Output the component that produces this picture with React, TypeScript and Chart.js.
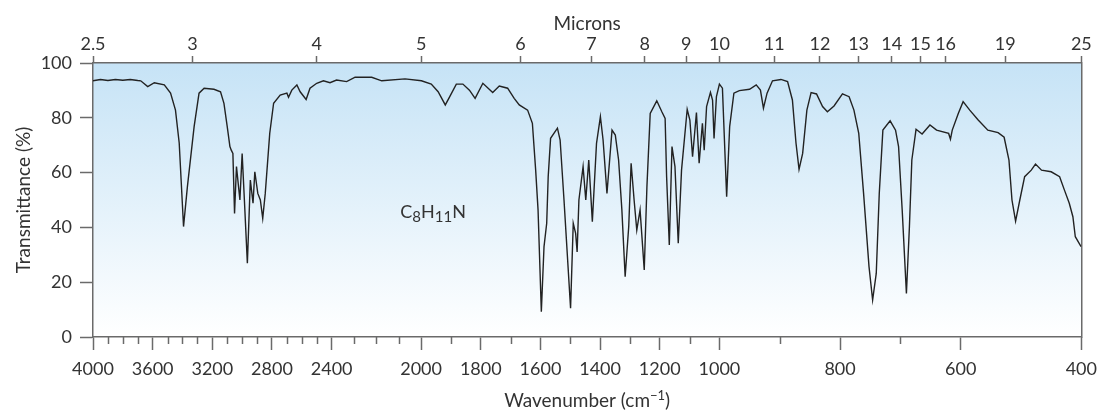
import React, { useEffect, useRef } from 'react';
import { Chart, registerables, LinearScale } from 'chart.js';

// ---------- data ----------
const wavenumbers = [
  4000, 3950, 3900, 3850, 3800, 3750, 3700, 3680, 3633, 3589, 3522, 3480, 3447, 3422, 3393, 3367, 3322, 3289, 3255, 3189,
  3145, 3122, 3100, 3082, 3073, 3062, 3051, 3038, 3015, 3000, 2985, 2965, 2945, 2927, 2915, 2895, 2878, 2862, 2845, 2815,
  2789, 2745, 2700, 2689, 2667, 2633, 2611, 2571, 2545, 2500, 2455, 2411, 2378, 2333, 2295, 2221, 2176, 2072, 1999, 1966,
  1943, 1919, 1904, 1882, 1860, 1838, 1819, 1793, 1760, 1738, 1710, 1688, 1671, 1643, 1627, 1616, 1608, 1597, 1588, 1579,
  1574, 1566, 1543, 1534, 1521, 1499, 1490, 1482, 1477, 1471, 1457, 1448, 1438, 1426, 1412, 1399, 1390, 1377, 1360, 1349,
  1338, 1327, 1316, 1304, 1296, 1286, 1277, 1266, 1252, 1243, 1232, 1210, 1193, 1182, 1177, 1168, 1159, 1149, 1138, 1127,
  1108, 1099, 1090, 1077, 1068, 1057, 1051, 1043, 1030, 1023, 1018, 1010, 1000, 995, 988, 983, 976, 967, 950, 939,
  932, 927, 921, 912, 898, 887, 879, 873, 868, 862, 855, 848, 839, 829, 821, 810, 796, 785, 777, 769,
  761, 752, 746, 740, 735, 729, 717, 708, 703, 697, 690, 685, 681, 674, 664, 651, 640, 620, 617, 614,
  604, 596, 585, 571, 555, 538, 528, 520, 515, 509, 502, 494, 483, 476, 466, 450, 436, 428, 420, 414,
  410, 401, 400,
];
const transmittance = [
  93.5, 94, 93.6, 94, 93.7, 94, 93.6, 93.5, 91.4, 92.8, 92, 89, 82.8, 70.8, 40.3, 54.9, 76.8, 89, 90.8, 90.4,
  89.5, 85.3, 76.8, 69.5, 68.2, 67, 45.1, 62.2, 50, 67, 50, 26.9, 57.3, 48.8, 60.3, 52.4, 50, 43.3, 52.4, 74.3,
  85.3, 88.3, 89, 87.5, 90.1, 92, 89.5, 86.7, 90.8, 92.6, 93.5, 92.8, 93.8, 93.2, 94.8, 94.8, 93.5, 94.2, 93.5, 92.3,
  89.5, 84.7, 87.7, 92.3, 92.3, 90.1, 87.1, 92.6, 89.2, 91.6, 90.8, 87.1, 84.7, 82.8, 78, 60.9, 46.4, 9.2, 33, 41.5,
  58.5, 72.5, 76.2, 71.9, 50, 10.5, 41.5, 37.8, 31, 50, 62.2, 50, 64.6, 42.1, 70.7, 80.4, 71.9, 52.4, 75.5, 73.7,
  64.6, 46.4, 22, 40.3, 63.4, 50, 39, 46.4, 24.5, 54.9, 81.6, 86.2, 82.2, 79.8, 58.5, 33.6, 69.5, 62.2, 34.2, 60.9,
  83.1, 79.2, 65.8, 81.9, 63.4, 78, 68.2, 84.1, 89.3, 86.5, 72.5, 87.7, 92.3, 90.8, 51.2, 76.8, 89, 89.9, 90.4, 92,
  90.1, 83.5, 89, 93.5, 94, 93.2, 86.5, 70.7, 61.2, 67, 82.8, 89.2, 88.7, 84.1, 82.2, 84.3, 88.7, 87.7, 82.8, 74.3,
  52.4, 25.7, 13.5, 23.2, 52.4, 75.5, 78.9, 75.5, 69.5, 46.4, 15.9, 40.3, 64.6, 75.8, 74.1, 77.4, 75.5, 74.3, 72.2, 75.5,
  81.6, 85.9, 82.8, 79.2, 75.5, 74.6, 72.9, 64.6, 50, 42.3, 50, 58.5, 60.9, 63.1, 60.9, 60.3, 58.5, 53.6, 48.8, 43.9,
  36.6, 33.2, 33,
];

const bottomTickValues = [
  4000, 3900, 3800, 3700, 3600, 3500, 3400, 3300, 3200, 3100, 3000, 2900, 2800, 2700, 2600, 2500, 2400,
  2300, 2200, 2100, 2000, 1900, 1800, 1700, 1600, 1500, 1400, 1300, 1200, 1100, 1000, 900, 800, 700, 600, 400,
];
const bottomTickLabels = [4000, 3600, 3200, 2800, 2400, 2000, 1800, 1600, 1400, 1200, 1000, 800, 600, 400];
const micronTicks = [2.5, 3, 4, 5, 6, 7, 8, 9, 10, 11, 12, 13, 14, 15, 16, 19, 25];
const yTickStep = 20;

const formulaParts = [
  { text: 'C', sub: false },
  { text: '8', sub: true },
  { text: 'H', sub: false },
  { text: '11', sub: true },
  { text: 'N', sub: false },
];
const FORMULA_WN = 2093;
const FORMULA_T = 43.5;

// ---------- the chart's piecewise-linear wavenumber axis ----------
const WN_BREAKS = [4000, 2400, 2000, 1000, 400];
const AXIS_FRACTIONS = [0, 240 / 994, 330 / 994, 630 / 994, 1];

function wnToFraction(w: number): number {
  const n = WN_BREAKS.length;
  for (let i = 0; i < n - 1; i++) {
    const a = WN_BREAKS[i];
    const b = WN_BREAKS[i + 1];
    if (w >= b || i === n - 2) {
      const t = (a - w) / (a - b);
      return AXIS_FRACTIONS[i] + t * (AXIS_FRACTIONS[i + 1] - AXIS_FRACTIONS[i]);
    }
  }
  return 0;
}
function fractionToWn(f: number): number {
  const n = AXIS_FRACTIONS.length;
  for (let i = 0; i < n - 1; i++) {
    const a = AXIS_FRACTIONS[i];
    const b = AXIS_FRACTIONS[i + 1];
    if (f <= b || i === n - 2) {
      const t = (f - a) / (b - a);
      return WN_BREAKS[i] + t * (WN_BREAKS[i + 1] - WN_BREAKS[i]);
    }
  }
  return WN_BREAKS[0];
}

const TICK_SETS: Record<string, number[]> = {
  x: bottomTickValues,
  xTop: micronTicks.map((m) => 10000 / m),
};

class WavenumberScale extends (LinearScale as any) {
  static id = 'wavenumber';
  static defaults = (LinearScale as any).defaults;
  buildTicks() {
    const list = TICK_SETS[(this as any).id] || [];
    return list.map((v) => ({ value: v }));
  }
  getPixelForValue(value: any) {
    if (value === null || value === undefined || isNaN(value)) return NaN;
    return (this as any).getPixelForDecimal(wnToFraction(value));
  }
  getValueForPixel(pixel: number) {
    return fractionToWn((this as any).getDecimalForPixel(pixel));
  }
}

Chart.register(...registerables, WavenumberScale as any);

const AXIS_COLOR = '#6a6a6a';
const TEXT_COLOR = '#333333';
const FONT = 'Lato';

const backgroundPlugin = {
  id: 'plotBackground',
  beforeDraw(chart: any) {
    const { ctx, chartArea } = chart;
    const { left, right, top, bottom } = chartArea;
    const g = ctx.createLinearGradient(0, top, 0, bottom);
    g.addColorStop(0, 'rgb(198,227,246)');
    g.addColorStop(1, 'rgb(255,255,255)');
    ctx.save();
    ctx.fillStyle = g;
    ctx.fillRect(left, top, right - left, bottom - top);
    ctx.restore();
  },
};

function drawRich(ctx: any, parts: { text: string; size: number; dy: number }[], cx: number, baseline: number) {
  let total = 0;
  const widths = parts.map((p) => {
    ctx.font = `${p.size}px ${FONT}`;
    const w = ctx.measureText(p.text).width;
    total += w;
    return w;
  });
  let x = cx - total / 2;
  parts.forEach((p, i) => {
    ctx.font = `${p.size}px ${FONT}`;
    ctx.fillText(p.text, x, baseline + p.dy);
    x += widths[i];
  });
}

const annotationPlugin = {
  id: 'annotations',
  afterDraw(chart: any) {
    const { ctx, chartArea } = chart;
    const sx = chart.scales.x;
    const sy = chart.scales.y;
    ctx.save();
    // minor ticks on the bottom axis
    ctx.strokeStyle = AXIS_COLOR;
    ctx.lineWidth = 1.5;
    bottomTickValues.forEach((v) => {
      if (bottomTickLabels.includes(v)) return;
      const px = Math.round(sx.getPixelForValue(v)) + 0.5;
      ctx.beginPath();
      ctx.moveTo(px, sx.top);
      ctx.lineTo(px, sx.top + 7);
      ctx.stroke();
    });
    // x-axis title with superscript
    ctx.fillStyle = TEXT_COLOR;
    ctx.textBaseline = 'alphabetic';
    ctx.textAlign = 'left';
    const cx = (chartArea.left + chartArea.right) / 2;
    drawRich(
      ctx,
      [
        { text: 'Wavenumber (cm', size: 19, dy: 0 },
        { text: '\u22121', size: 13, dy: -7 },
        { text: ')', size: 19, dy: 0 },
      ],
      cx,
      407
    );
    // molecular formula with subscripts
    let fx = sx.getPixelForValue(FORMULA_WN);
    const fy = sy.getPixelForValue(FORMULA_T);
    formulaParts.forEach((p) => {
      ctx.font = `${p.sub ? 15 : 18}px ${FONT}`;
      ctx.fillText(p.text, fx, fy + (p.sub ? 4 : 0));
      fx += ctx.measureText(p.text).width;
    });
    ctx.restore();
  },
};

export default function App() {
  const canvasRef = useRef<HTMLCanvasElement | null>(null);

  useEffect(() => {
    if (!canvasRef.current) return;
    const points = wavenumbers.map((w, i) => ({ x: w, y: transmittance[i] }));
    const chart = new Chart(canvasRef.current, {
      type: 'line',
      data: {
        datasets: [
          {
            data: points,
            borderColor: '#222222',
            borderWidth: 1.4,
            pointRadius: 0,
            tension: 0,
            fill: false,
            xAxisID: 'x',
            yAxisID: 'y',
          },
        ],
      },
      plugins: [backgroundPlugin, annotationPlugin],
      options: {
        responsive: false,
        animation: false,
        devicePixelRatio: 1,
        layout: { padding: 0 },
        plugins: { legend: { display: false }, tooltip: { enabled: false } },
        scales: {
          x: {
            type: 'wavenumber' as any,
            position: 'bottom',
            min: 400,
            max: 4000,
            afterFit: (s: any) => {
              s.height = 74;
            },
            border: { display: true, color: AXIS_COLOR, width: 1.5 },
            grid: {
              display: true,
              drawOnChartArea: false,
              drawTicks: true,
              tickLength: 13,
              tickWidth: 1.5,
              tickColor: (c: any) =>
                c.tick && bottomTickLabels.includes(c.tick.value) ? AXIS_COLOR : 'rgba(0,0,0,0)',
            },
            ticks: {
              autoSkip: false,
              maxRotation: 0,
              minRotation: 0,
              padding: 8,
              color: TEXT_COLOR,
              font: { family: FONT, size: 18 },
              callback: (v: any) => (bottomTickLabels.includes(Number(v)) ? String(v) : ''),
            },
          } as any,
          xTop: {
            type: 'wavenumber' as any,
            position: 'top',
            min: 400,
            max: 4000,
            afterFit: (s: any) => {
              s.height = 63;
            },
            border: { display: true, color: AXIS_COLOR, width: 1.5 },
            grid: {
              display: true,
              drawOnChartArea: false,
              drawTicks: true,
              tickLength: 7,
              tickWidth: 1.5,
              tickColor: AXIS_COLOR,
            },
            ticks: {
              autoSkip: false,
              maxRotation: 0,
              minRotation: 0,
              padding: 1,
              color: TEXT_COLOR,
              font: { family: FONT, size: 18 },
              callback: (_v: any, i: number) => String(micronTicks[i]),
            },
            title: {
              display: true,
              text: 'Microns',
              color: TEXT_COLOR,
              font: { family: FONT, size: 19 },
              padding: { top: 12, bottom: 0 },
            },
          } as any,
          y: {
            type: 'linear',
            position: 'left',
            min: 0,
            max: 100,
            afterFit: (s: any) => {
              s.width = 93;
            },
            border: { display: true, color: AXIS_COLOR, width: 1.5 },
            grid: {
              display: true,
              drawOnChartArea: false,
              drawTicks: true,
              tickLength: 13,
              tickWidth: 1.5,
              tickColor: AXIS_COLOR,
            },
            ticks: {
              stepSize: yTickStep,
              padding: 8,
              color: TEXT_COLOR,
              font: { family: FONT, size: 18 },
            },
            title: {
              display: true,
              text: 'Transmittance (%)',
              color: TEXT_COLOR,
              font: { family: FONT, size: 19 },
              padding: { top: 12, bottom: 0 },
            },
          },
          yRight: {
            type: 'linear',
            position: 'right',
            min: 0,
            max: 100,
            afterFit: (s: any) => {
              s.width = 18;
            },
            border: { display: true, color: AXIS_COLOR, width: 1.5 },
            grid: { display: false, drawTicks: false },
            ticks: { display: false },
          },
        },
      },
    });
    return () => chart.destroy();
  }, []);

  return (
    <div style={{ position: 'absolute', left: 0, top: 0, width: 1105, height: 411 }}>
      <canvas ref={canvasRef} width={1105} height={411} />
    </div>
  );
}
